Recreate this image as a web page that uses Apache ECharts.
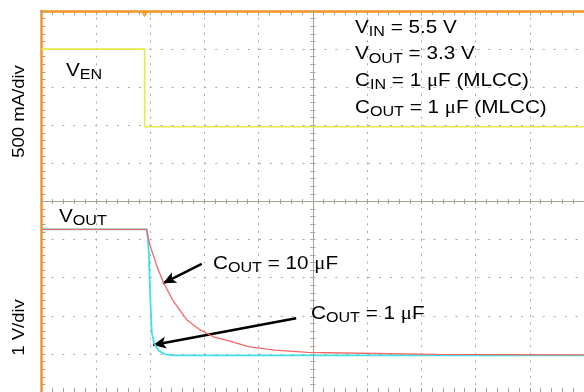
<!DOCTYPE html>
<html><head><meta charset="utf-8">
<script src="https://cdn.jsdelivr.net/npm/echarts@6/dist/echarts.min.js"></script>
<style>html,body{margin:0;padding:0;background:#fff}#c{width:584px;height:392px}</style>
</head><body><div id="c"></div>
<script>
// x in divisions (0..10), y in divisions (0..10, bottom = 0)
const vEN = [[0, 9.0], [1.9, 9.0], [1.9, 6.96], [10, 6.96]];
const vOut1uF = [[0, 4.27], [1.936, 4.27], [1.96, 4.04], [1.978, 3.65], [2.009, 2.34], [2.033, 1.55],
  [2.082, 1.26], [2.161, 1.08], [2.284, 0.99], [2.436, 0.96], [10, 0.96]];
const vOut10uF = [[0, 4.27], [1.941, 4.27], [1.97, 4.02], [2.009, 3.81], [2.130, 3.29], [2.253, 2.86],
  [2.436, 2.37], [2.680, 1.89], [2.925, 1.63], [3.168, 1.45], [3.443, 1.35], [3.81, 1.19],
  [4.30, 1.10], [4.908, 1.04], [5.27, 1.03], [7.29, 0.985], [10, 0.975]];
const triggerPos = [[1.9, 10]];
const arrowLines = [[[2.954, 3.36], [2.24, 2.853]], [[4.695, 1.934], [2.057, 1.234]]];
const axisTitles = ['500 mA/div', '1 V/div'];
// [main, subscript, text before mu, has mu, text after mu]
const legendLines = [['V', 'IN', ' = 5.5 V', false, ''], ['V', 'OUT', ' = 3.3 V', false, ''],
  ['C', 'IN', ' = 1 ', true, 'F (MLCC)'], ['C', 'OUT', ' = 1 ', true, 'F (MLCC)']];
const traceLabels = [['V', 'EN', '', false, ''], ['V', 'OUT', '', false, ''],
  ['C', 'OUT', ' = 10 ', true, 'F'], ['C', 'OUT', ' = 1 ', true, 'F']];

const FONT = '"Liberation Sans", Arial, Helvetica, sans-serif';
const SERIF = '"Liberation Serif", "Times New Roman", serif';
const ORANGE = '#f7941d';
const TICK = '#a8a094';
const GRIDC = '#a8a8a8';
const rich = {
  m: { fontSize: 18, fontFamily: FONT, lineHeight: 26, fill: '#000' },
  u: { fontSize: 18, fontFamily: SERIF, lineHeight: 26, fill: '#000' },
  s: { fontSize: 14, fontFamily: FONT, lineHeight: 17, padding: [9, 0, 0, 0], fill: '#000' }
};
function richText(p) {
  let t = '{m|' + p[0] + '}{s|' + p[1] + '}';
  if (p[2]) t += '{m|' + p[2] + '}';
  if (p[3]) t += '{u|μ}';
  if (p[4]) t += '{m|' + p[4] + '}';
  return t;
}
function label(p, x, y) {
  return { type: 'text', x: x, y: y, scaleX: 1.15, z: 100,
    style: { text: richText(p), rich: rich, verticalAlign: 'middle', align: 'left', fill: '#000', font: '18px ' + FONT } };
}
const graphics = [];
const legendY = [27.8, 54.5, 80.8, 107.8];
legendLines.forEach((p, i) => graphics.push(label(p, 355, legendY[i])));
graphics.push(label(traceLabels[0], 66, 70.8));
graphics.push(label(traceLabels[1], 59, 216.8));
graphics.push(label(traceLabels[2], 213, 263.8));
graphics.push(label(traceLabels[3], 311, 313.8));
graphics.push({ type: 'text', x: 19, y: 111.5, rotation: Math.PI / 2, scaleX: 1.09,
  style: { text: axisTitles[0], font: '17px ' + FONT, fill: '#000', align: 'center', verticalAlign: 'middle' } });
graphics.push({ type: 'text', x: 19, y: 327.5, rotation: Math.PI / 2, scaleX: 1.09,
  style: { text: axisTitles[1], font: '17px ' + FONT, fill: '#000', align: 'center', verticalAlign: 'middle' } });

const gridRect = { left: 41.5, top: 11, width: 546, height: 381 };
const hidden = { show: false };
function centerAxis(gi, dir) {
  return { type: 'value', gridIndex: gi, min: -5, max: 5, interval: 1,
    axisLine: { show: true, onZero: true, lineStyle: { color: TICK, width: 1 } },
    axisTick: { show: true, inside: dir, length: 2.5, lineStyle: { color: TICK } },
    minorTick: { show: true, splitNumber: 5, length: 2.5, lineStyle: { color: TICK } },
    axisLabel: hidden, splitLine: hidden };
}
const option = {
  animation: false,
  backgroundColor: '#fff',
  grid: [Object.assign({}, gridRect), Object.assign({}, gridRect), Object.assign({}, gridRect)],
  xAxis: [
    { type: 'value', gridIndex: 0, min: 0, max: 10, interval: 1, position: 'top',
      axisLine: { show: true, onZero: false, lineStyle: { color: ORANGE, width: 2.5 } },
      axisTick: { show: true, inside: true, length: 4, lineStyle: { color: TICK } },
      minorTick: { show: true, splitNumber: 5, length: 4, lineStyle: { color: TICK } },
      axisLabel: hidden,
      splitLine: { show: true, lineStyle: { color: GRIDC, width: 1, type: [2, 5.62], dashOffset: 1 } } },
    { type: 'value', gridIndex: 0, min: 0, max: 10, interval: 1, position: 'bottom',
      axisLine: { show: false, onZero: false },
      axisTick: { show: true, inside: true, length: 4, lineStyle: { color: TICK } },
      minorTick: { show: true, splitNumber: 5, length: 4, lineStyle: { color: TICK } },
      axisLabel: hidden, splitLine: hidden },
    centerAxis(1, true),
    centerAxis(2, false)
  ],
  yAxis: [
    { type: 'value', gridIndex: 0, min: 0, max: 10, interval: 1, position: 'left',
      axisLine: { show: true, onZero: false, lineStyle: { color: ORANGE, width: 2.5 } },
      axisTick: { show: true, inside: true, length: 4, lineStyle: { color: TICK } },
      minorTick: { show: true, splitNumber: 5, length: 4, lineStyle: { color: TICK } },
      axisLabel: hidden,
      splitLine: { show: true, lineStyle: { color: GRIDC, width: 1, type: [2, 8.92], dashOffset: 1 } } },
    centerAxis(1, true),
    centerAxis(2, false)
  ],
  graphic: graphics,
  series: [
    { type: 'line', xAxisIndex: 0, yAxisIndex: 0, data: vEN, showSymbol: false, symbol: 'none',
      lineStyle: { color: '#e2ea48', width: 1.6 }, z: 5 },
    { type: 'line', xAxisIndex: 0, yAxisIndex: 0, data: vOut1uF, showSymbol: false, symbol: 'none',
      lineStyle: { color: '#40e0e6', width: 1.8 }, z: 5 },
    { type: 'line', xAxisIndex: 0, yAxisIndex: 0, data: vOut10uF, showSymbol: false, symbol: 'none',
      lineStyle: { color: '#f26868', width: 1.3 }, z: 6,
      markLine: { silent: true, symbol: ['none', 'arrow'], symbolSize: [9, 13], animation: false,
        label: { show: false },
        lineStyle: { color: '#000', width: 2.5, type: 'solid' },
        data: arrowLines.map(a => [{ coord: a[0] }, { coord: a[1] }]) } },
    { type: 'scatter', xAxisIndex: 0, yAxisIndex: 0, data: triggerPos, symbol: 'triangle', symbolRotate: 180,
      symbolSize: [8, 6], symbolOffset: [0, 3.5], itemStyle: { color: ORANGE }, z: 10, silent: true }
  ]
};
const chart = echarts.init(document.getElementById('c'), null, { renderer: 'canvas' });
chart.setOption(option);
</script></body></html>
